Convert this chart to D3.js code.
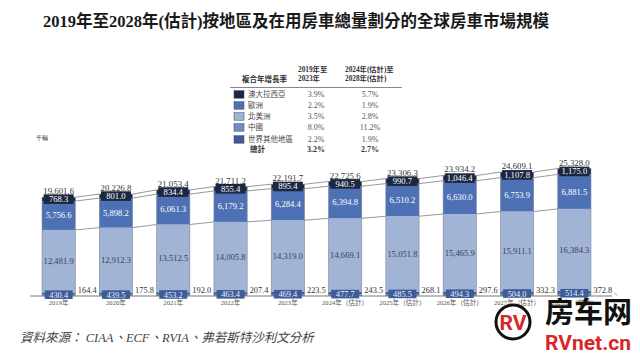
<!DOCTYPE html>
<html><head><meta charset="utf-8">
<script src="https://cdn.jsdelivr.net/npm/d3@7"></script>
<style>
body{margin:0;background:#fff;}
svg{display:block;}
</style></head>
<body><svg id="c" width="640" height="364"></svg>
<script>
const years = ["2019","2020","2021","2022","2023","2024","2025","2026","2027","2028"];
const yearLabels = ["2019年","2020年","2021年","2022年","2023年","2024年（估計）","2025年（估計）","2026年（估計）","2027年（估計）","2028年（估計）"];
const china = [164.4,175.8,192.0,207.4,223.5,243.5,268.1,297.6,332.3,372.8];
const restOfWorld = [430.4,439.5,453.2,463.4,469.4,477.7,485.5,494.3,504.0,514.4];
const northAmerica = [12481.9,12912.3,13512.5,14005.8,14319.0,14669.1,15051.8,15465.9,15911.1,16384.3];
const europe = [5756.6,5898.2,6061.3,6179.2,6284.4,6394.8,6510.2,6630.0,6753.9,6881.5];
const australasia = [768.3,801.0,834.4,855.4,895.4,940.5,990.7,1046.4,1107.8,1175.0];
const totals = [19601.6,20226.8,21053.4,21711.2,22191.7,22725.6,23306.3,23934.2,24609.1,25328.0];

const legendNames = ["澳大拉西亞","歐洲","北美洲","中國","世界其他地區"];
const cagr1 = ["3.9%","2.2%","3.5%","8.0%","2.2%"];
const cagr2 = ["5.7%","1.9%","2.8%","11.2%","1.9%"];
const totalCagr = ["3.2%","2.7%"];

const colors = {aus:"#1c2741", eu:"#4d71b4", na:"#a2b4d6", cn:"#6e8dc8", row:"#3d5c98"};
const serif = "'Liberation Serif','Noto Sans CJK TC',serif";
const cjk = "'Liberation Serif','Noto Sans CJK TC',sans-serif";

const svg = d3.select("#c");
const fmt = d3.format(",.1f");

const x = d3.scaleBand().domain(years).range([30, 603]).paddingInner(0.42).paddingOuter(0.21);
const y = d3.scaleLinear().domain([0, 25328]).range([295.5, 168.5]);
const bw = x.bandwidth();

// Title
svg.append("text").attr("x", 296).attr("y", 27).attr("text-anchor","middle")
  .attr("font-family", cjk).attr("font-weight","bold").attr("font-size", 16.5).attr("fill","#1a1a1a")
  .text("2019年至2028年(估計)按地區及在用房車總量劃分的全球房車市場規模");

// Stack data
const rows = years.map((yr,i)=>{
  const c0 = 0, c1 = china[i];
  const r1 = c1 + restOfWorld[i];
  const n1 = r1 + northAmerica[i];
  const e1 = n1 + europe[i];
  const a1 = e1 + australasia[i];
  return {yr, i, c1, r1, n1, e1, a1};
});

// connecting lines
const lineKeys = ["n1","e1","a1"];
for (let i=0;i<rows.length-1;i++){
  lineKeys.forEach(k=>{
    svg.append("line")
      .attr("x1", x(rows[i].yr)+bw).attr("y1", y(rows[i][k]))
      .attr("x2", x(rows[i+1].yr)).attr("y2", y(rows[i+1][k]))
      .attr("stroke","#6b6b6b").attr("stroke-width",0.7);
  });
}

// bars
const segs = [
  {k0:null,k1:"c1",col:colors.cn},
  {k0:"c1",k1:"r1",col:colors.row},
  {k0:"r1",k1:"n1",col:colors.na},
  {k0:"n1",k1:"e1",col:colors.eu},
  {k0:"e1",k1:"a1",col:colors.aus}
];
rows.forEach(r=>{
  segs.forEach(s=>{
    const v0 = s.k0 ? r[s.k0] : 0;
    svg.append("rect").attr("x", x(r.yr)).attr("width", bw)
      .attr("y", y(r[s.k1])).attr("height", y(v0)-y(r[s.k1]))
      .attr("fill", s.col);
  });
  // outline
  svg.append("rect").attr("x", x(r.yr)).attr("width", bw)
    .attr("y", y(r.a1)).attr("height", y(0)-y(r.a1))
    .attr("fill","none").attr("stroke","#7b8597").attr("stroke-width",0.6);
});

// baseline
svg.append("line").attr("x1",30).attr("x2",612).attr("y1",y(0)+0.5).attr("y2",y(0)+0.5)
  .attr("stroke","#555").attr("stroke-width",0.8);

// labels
rows.forEach(r=>{
  const cx = x(r.yr)+bw/2, i=r.i;
  // total
  svg.append("text").attr("x",cx).attr("y",y(totals[i])-3).attr("text-anchor","middle")
    .attr("font-family",serif).attr("font-size",8.8).attr("fill","#333").text(fmt(totals[i]));
  // australasia box
  const ay = (y(r.e1)+y(r.a1))/2;
  svg.append("rect").attr("x",cx-15).attr("y",ay-4.8).attr("width",30).attr("height",9.6).attr("fill",colors.aus);
  svg.append("text").attr("x",cx).attr("y",ay+3).attr("text-anchor","middle")
    .attr("font-family",serif).attr("font-size",8.6).attr("fill","#fff").text(fmt(australasia[i]));
  // europe
  svg.append("text").attr("x",cx).attr("y",(y(r.n1)+y(r.e1))/2+3).attr("text-anchor","middle")
    .attr("font-family",serif).attr("font-size",8.6).attr("fill","#fff").text(fmt(europe[i]));
  // north america
  svg.append("text").attr("x",cx).attr("y",(y(r.r1)+y(r.n1))/2+3).attr("text-anchor","middle")
    .attr("font-family",serif).attr("font-size",8.6).attr("fill","#3b4150").text(fmt(northAmerica[i]));
  // rest of world box
  const ry = y(r.r1)+2.5;
  svg.append("rect").attr("x",cx-14).attr("y",ry-4.6).attr("width",28).attr("height",8.6).attr("fill",colors.row);
  svg.append("text").attr("x",cx).attr("y",ry+2.8).attr("text-anchor","middle")
    .attr("font-family",serif).attr("font-size",8.4).attr("fill","#e8eefa").text(fmt(restOfWorld[i]));
  // china label
  const tx = x(r.yr)+bw+2.5;
  svg.append("text").attr("x",tx).attr("y",y(0)-3).attr("text-anchor","start")
    .attr("font-family",serif).attr("font-size",8.4).attr("fill","#333").text(fmt(china[i]));
  svg.append("line").attr("x1",tx+21).attr("x2",tx+24).attr("y1",y(0)-2.5).attr("y2",y(0))
    .attr("stroke","#666").attr("stroke-width",0.6);
  // x label
  svg.append("text").attr("x",cx).attr("y",y(0)+9.5).attr("text-anchor","middle")
    .attr("font-family",cjk).attr("font-size",6.6).attr("fill","#555").text(yearLabels[i]);
});

// unit
svg.append("text").attr("x",36).attr("y",140).attr("font-family",cjk).attr("font-size",6)
  .attr("fill","#333").text("千輛");

// legend table
const lg = svg.append("g");
lg.append("text").attr("x",242).attr("y",82).attr("font-family",cjk).attr("font-size",7.5)
  .attr("font-weight","bold").attr("fill","#333").text("複合年增長率");
lg.append("text").attr("x",298).attr("y",72).attr("font-family",cjk).attr("font-size",7.3)
  .attr("font-weight","bold").attr("fill","#333").text("2019年至");
lg.append("text").attr("x",298).attr("y",81).attr("font-family",cjk).attr("font-size",7.3)
  .attr("font-weight","bold").attr("fill","#333").text("2023年");
lg.append("text").attr("x",345).attr("y",72).attr("font-family",cjk).attr("font-size",7.3)
  .attr("font-weight","bold").attr("fill","#333").text("2024年(估計)至");
lg.append("text").attr("x",345).attr("y",81).attr("font-family",cjk).attr("font-size",7.3)
  .attr("font-weight","bold").attr("fill","#333").text("2028年(估計)");
lg.append("line").attr("x1",230).attr("x2",402).attr("y1",87.5).attr("y2",87.5)
  .attr("stroke","#555").attr("stroke-width",0.7);
const legCols = [colors.aus, colors.eu, colors.na, colors.cn, colors.row];
const rowY = [94.5,105.5,116.5,127.5,139.5];
legendNames.forEach((n,i)=>{
  lg.append("rect").attr("x",234).attr("y",rowY[i]-3.8).attr("width",10).attr("height",7.5)
    .attr("fill",legCols[i]).attr("stroke","#3a4660").attr("stroke-width",0.5);
  lg.append("text").attr("x",248).attr("y",rowY[i]+2.8).attr("font-family",cjk).attr("font-size",7.5)
    .attr("fill","#444").text(n);
  lg.append("text").attr("x",316).attr("y",rowY[i]+2.8).attr("text-anchor","middle").attr("font-family",serif)
    .attr("font-size",8).attr("fill","#555").text(cagr1[i]);
  lg.append("text").attr("x",370).attr("y",rowY[i]+2.8).attr("text-anchor","middle").attr("font-family",serif)
    .attr("font-size",8).attr("fill","#555").text(cagr2[i]);
});
lg.append("text").attr("x",250).attr("y",152.3).attr("font-family",cjk).attr("font-size",7.5)
  .attr("font-weight","bold").attr("fill","#333").text("總計");
lg.append("text").attr("x",316).attr("y",152.3).attr("text-anchor","middle").attr("font-family",serif)
  .attr("font-size",8).attr("font-weight","bold").attr("fill","#333").text(totalCagr[0]);
lg.append("text").attr("x",370).attr("y",152.3).attr("text-anchor","middle").attr("font-family",serif)
  .attr("font-size",8).attr("font-weight","bold").attr("fill","#333").text(totalCagr[1]);

// footer
svg.append("text").attr("x",20).attr("y",342).attr("font-family",cjk).attr("font-style","italic")
  .attr("font-size",12.5).attr("fill","#444").text("資料來源：  CIAA、ECF、RVIA、弗若斯特沙利文分析");

// watermark
const wm = svg.append("g");
wm.append("circle").attr("cx",513).attr("cy",322).attr("r",17).attr("fill","#fff")
  .attr("stroke","#111").attr("stroke-width",3);
wm.append("text").attr("x",513).attr("y",330).attr("text-anchor","middle").attr("font-family","Roboto,sans-serif")
  .attr("font-weight","bold").attr("font-size",21).attr("fill","#d8262a").text("RV");
wm.append("text").attr("x",545).attr("y",323).attr("font-family","'Noto Sans CJK SC',sans-serif")
  .attr("font-weight","bold").attr("font-size",29).attr("fill","#111").text("房车网");
wm.append("text").attr("x",545).attr("y",350).attr("font-family","Roboto,sans-serif")
  .attr("font-weight","bold").attr("font-size",21).attr("fill","#d8262a").text("RVnet.cn");
</script></body></html>
